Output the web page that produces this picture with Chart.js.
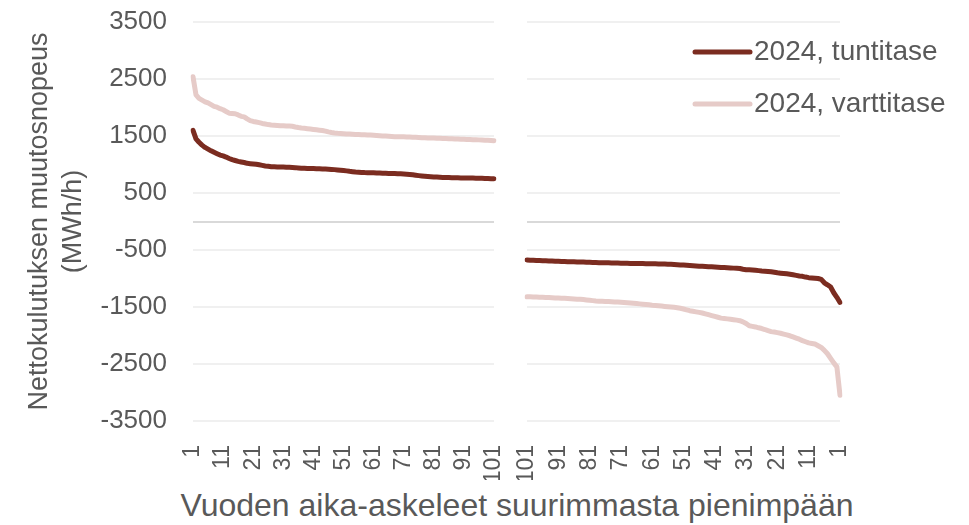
<!DOCTYPE html>
<html>
<head>
<meta charset="utf-8">
<script src="https://cdn.jsdelivr.net/npm/chart.js@4.4.1/dist/chart.umd.min.js"></script>
<style>
  body { margin: 0; background: #fff; overflow: hidden; }
  #wrap { position: relative; width: 969px; height: 525px; }
  #vasen { position: absolute; left: 0; top: 0; }
  #oikea { position: absolute; left: 510px; top: 0; }
  #xotsikko {
    position: absolute; left: 517px; top: 487px; transform: translateX(-50%);
    font: 32px "Liberation Sans", Arial, sans-serif; color: #595959; white-space: nowrap;
  }
</style>
</head>
<body>
<div id="wrap">
  <canvas id="vasen" width="510" height="480"></canvas>
  <canvas id="oikea" width="459" height="480"></canvas>
  <div id="xotsikko">Vuoden aika-askeleet suurimmasta pienimpään</div>
</div>
<script>
// aika-askeleet 1..101 (vasemmalla suurimmat, oikealla pienimmät)
const askeleet = Array.from({ length: 101 }, (_, i) => String(i + 1));

// suurimmat muutokset, MWh/h
const tuntiSuurin = [
  1600, 1450, 1390, 1340, 1300, 1270, 1240, 1215, 1190, 1165,
  1150, 1130, 1105, 1085, 1070, 1055, 1045, 1035, 1020, 1015,
  1010, 1005, 995, 985, 975, 968, 962, 960, 958, 956,
  954, 952, 950, 948, 945, 940, 936, 933, 931, 930,
  928, 926, 924, 922, 920, 918, 914, 910, 905, 900,
  895, 888, 880, 874, 868, 864, 861, 858, 857, 856,
  854, 852, 850, 848, 846, 844, 842, 840, 838, 836,
  833, 830, 826, 820, 812, 805, 799, 794, 790, 786,
  782, 779, 776, 774, 772, 770, 768, 767, 766, 765,
  764, 763, 762, 761, 760, 759, 757, 756, 754, 752,
  751
];
const varttiSuurin = [
  2540, 2220, 2160, 2130, 2100, 2080, 2050, 2020, 2005, 1980,
  1960, 1930, 1900, 1895, 1890, 1870, 1845, 1835, 1800, 1770,
  1755, 1745, 1735, 1720, 1710, 1700, 1693, 1688, 1684, 1680,
  1678, 1676, 1675, 1670, 1658, 1648, 1640, 1635, 1628, 1622,
  1615, 1608, 1602, 1596, 1585, 1572, 1562, 1554, 1548, 1545,
  1541, 1537, 1534, 1531, 1528, 1525, 1522, 1520, 1518, 1517,
  1514, 1510, 1506, 1502, 1498, 1494, 1491, 1489, 1488, 1487,
  1486, 1484, 1482, 1480, 1477, 1474, 1471, 1468, 1466, 1465,
  1463, 1461, 1459, 1457, 1455, 1453, 1451, 1449, 1446, 1444,
  1442, 1440, 1438, 1436, 1434, 1432, 1430, 1427, 1424, 1421,
  1418
];

// pienimmät muutokset, järjestysluvun 1..101 mukaan (1 = pienin)
const tuntiPienin = [
  -1420, -1330, -1250, -1150, -1110, -1075, -1015, -1000, -995, -990,
  -985, -975, -962, -955, -945, -935, -925, -918, -912, -906,
  -900, -890, -882, -876, -872, -868, -862, -855, -850, -847,
  -845, -838, -825, -820, -818, -815, -812, -808, -805, -802,
  -798, -795, -792, -790, -787, -784, -780, -776, -772, -768,
  -765, -762, -758, -754, -751, -748, -746, -745, -744, -743,
  -742, -741, -740, -739, -738, -737, -736, -735, -734, -733,
  -732, -730, -728, -726, -725, -724, -723, -722, -720, -718,
  -716, -714, -712, -711, -710, -708, -706, -704, -702, -700,
  -698, -696, -694, -692, -690, -688, -686, -684, -681, -678,
  -675
];
const varttiPienin = [
  -3050, -2550, -2480, -2400, -2320, -2260, -2210, -2180, -2150, -2140,
  -2130, -2110, -2090, -2065, -2045, -2025, -2005, -1990, -1975, -1960,
  -1950, -1940, -1932, -1915, -1895, -1878, -1865, -1850, -1840, -1830,
  -1790, -1760, -1740, -1730, -1722, -1715, -1708, -1702, -1695, -1680,
  -1665, -1650, -1635, -1620, -1605, -1595, -1585, -1575, -1565, -1550,
  -1535, -1522, -1512, -1505, -1500, -1495, -1490, -1484, -1478, -1472,
  -1468, -1462, -1456, -1450, -1445, -1440, -1435, -1430, -1426, -1422,
  -1418, -1414, -1411, -1408, -1405, -1402, -1400, -1398, -1394, -1388,
  -1382, -1376, -1370, -1365, -1362, -1358, -1355, -1352, -1348, -1345,
  -1342, -1340, -1338, -1335, -1332, -1330, -1328, -1326, -1324, -1322,
  -1320
];

const sarjat = ['2024, tuntitase', '2024, varttitase'];
const yTikit = [-3500, -2500, -1500, -500, 500, 1500, 2500, 3500];

const TUMMA = '#7b2c20';
const VAALEA = '#e6cbc8';
const FONTTI = '"Liberation Sans", Arial, sans-serif';

Chart.defaults.font.family = FONTTI;
Chart.defaults.color = '#595959';

function viiva(nimi, arvot, vari) {
  return {
    label: nimi,
    data: arvot,
    borderColor: vari,
    backgroundColor: vari,
    borderWidth: 5,
    pointRadius: 0,
    borderCapStyle: 'round',
    borderJoinStyle: 'round',
    tension: 0
  };
}

function yAkseli(tekstit) {
  return {
    min: yTikit[0],
    max: yTikit[yTikit.length - 1],
    afterBuildTicks: s => {
      s.ticks = yTikit.map(v => ({ value: v }));
      s.ticks.push({ value: 0 }); // nollaviiva
      s.ticks.sort((a, b) => a.value - b.value);
    },
    afterFit: s => {
      s.width = tekstit ? 193 : 0;
      s.paddingTop = 0;
      s.paddingBottom = 0;
    },
    ticks: {
      display: tekstit,
      autoSkip: false,
      padding: 26,
      font: { size: 26 },
      callback: v => (v === 0 ? '' : v)
    },
    grid: {
      drawTicks: false,
      lineWidth: 2,
      color: c => (c.tick && c.tick.value === 0 ? '#d9d9d9' : '#f0f0f0')
    },
    border: { display: false },
    title: {
      display: tekstit,
      text: ['Nettokulutuksen muutosnopeus', '(MWh/h)'],
      font: { size: 27, lineHeight: 1.25 },
      padding: { top: 23, bottom: 0 }
    }
  };
}

function xAkseli(kaanna) {
  return {
    reverse: kaanna,
    afterFit: s => {
      s.height = 59;
      s.paddingLeft = 0;
      s.paddingRight = 0;
    },
    grid: { display: false, drawTicks: false },
    border: { display: false },
    ticks: {
      autoSkip: false,
      maxRotation: 90,
      minRotation: 90,
      padding: 24,
      font: { size: 23 },
      callback: function (v, i) { return i % 10 === 0 ? this.getLabelForValue(v) : ''; }
    }
  };
}

// selite piirretään kuvaajan päälle oikeaan yläkulmaan
const selite = {
  id: 'selite',
  afterDraw(chart) {
    const { ctx, chartArea } = chart;
    ctx.save();
    chart.data.datasets.forEach((ds, i) => {
      const y = 52 + i * 52;
      const x0 = chartArea.right - 145;
      ctx.strokeStyle = ds.borderColor;
      ctx.lineWidth = 5;
      ctx.lineCap = 'round';
      ctx.beginPath();
      ctx.moveTo(x0, y);
      ctx.lineTo(x0 + 55, y);
      ctx.stroke();
      ctx.fillStyle = '#595959';
      ctx.font = '28px ' + FONTTI;
      ctx.textBaseline = 'middle';
      ctx.fillText(ds.label, x0 + 59, y);
    });
    ctx.restore();
  }
};

const ctx1 = document.getElementById('vasen').getContext('2d');
const myChart1 = new Chart(ctx1, {
  type: 'line',
  data: {
    labels: askeleet,
    datasets: [
      viiva(sarjat[0], tuntiSuurin, TUMMA),
      viiva(sarjat[1], varttiSuurin, VAALEA)
    ]
  },
  options: {
    responsive: false,
    animation: false,
    devicePixelRatio: 1,
    layout: { padding: { top: 22, right: 16, left: 0, bottom: 0 } },
    plugins: { legend: { display: false }, tooltip: { enabled: false } },
    scales: { x: xAkseli(false), y: yAkseli(true) }
  }
});

const ctx2 = document.getElementById('oikea').getContext('2d');
const myChart2 = new Chart(ctx2, {
  type: 'line',
  data: {
    labels: askeleet,
    datasets: [
      viiva(sarjat[0], tuntiPienin, TUMMA),
      viiva(sarjat[1], varttiPienin, VAALEA)
    ]
  },
  options: {
    responsive: false,
    animation: false,
    devicePixelRatio: 1,
    layout: { padding: { top: 22, right: 129, left: 17, bottom: 0 } },
    plugins: { legend: { display: false }, tooltip: { enabled: false } },
    scales: { x: xAkseli(true), y: yAkseli(false) }
  },
  plugins: [selite]
});
</script>
</body>
</html>
